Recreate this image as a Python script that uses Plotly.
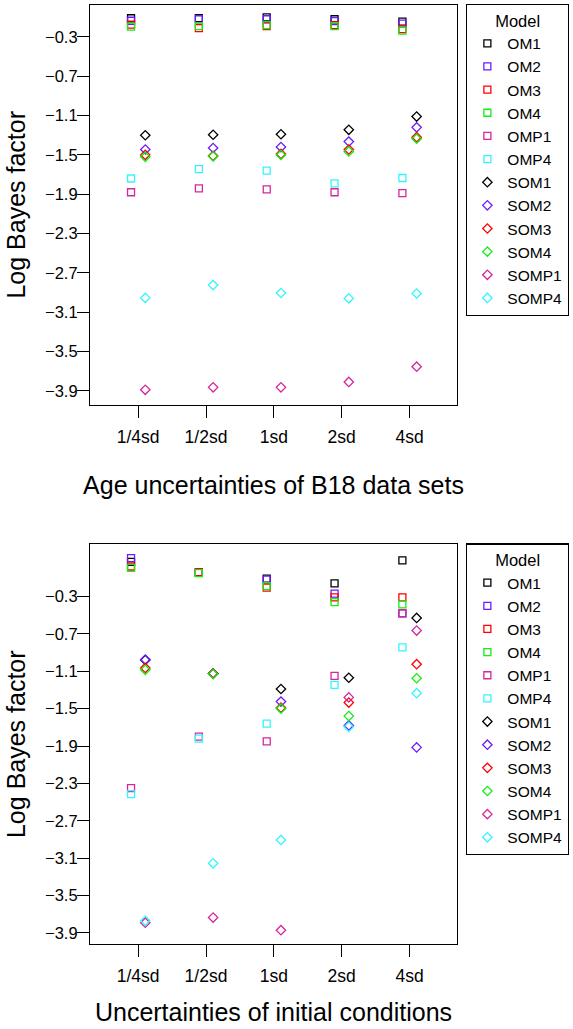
import plotly.graph_objects as go

# categories on the x axis (same for both panels)
categories = ["1/4sd", "1/2sd", "1sd", "2sd", "4sd"]
y_ticks = [-0.3, -0.7, -1.1, -1.5, -1.9, -2.3, -2.7, -3.1, -3.5, -3.9]

models = ["OM1", "OM2", "OM3", "OM4", "OMP1", "OMP4",
          "SOM1", "SOM2", "SOM3", "SOM4", "SOMP1", "SOMP4"]

# top panel: age uncertainties of B18 data sets
age_om1 = [-0.11, -0.11, -0.10, -0.12, -0.145]
age_om2 = [-0.135, -0.12, -0.12, -0.14, -0.165]
age_om3 = [-0.175, -0.21, -0.19, -0.18, -0.22]
age_om4 = [-0.195, -0.19, -0.18, -0.19, -0.235]
age_omp1 = [-1.88, -1.84, -1.85, -1.88, -1.89]
age_omp4 = [-1.74, -1.645, -1.66, -1.79, -1.735]
age_som1 = [-1.30, -1.295, -1.29, -1.245, -1.11]
age_som2 = [-1.445, -1.43, -1.42, -1.365, -1.22]
age_som3 = [-1.50, -1.51, -1.49, -1.445, -1.32]
age_som4 = [-1.52, -1.515, -1.50, -1.465, -1.335]
age_somp1 = [-3.89, -3.865, -3.865, -3.81, -3.655]
age_somp4 = [-2.955, -2.825, -2.905, -2.96, -2.91]

# bottom panel: uncertainties of initial conditions
ic_om1 = [0.07, -0.045, -0.11, -0.16, 0.085]
ic_om2 = [0.11, -0.045, -0.12, -0.27, -0.48]
ic_om3 = [0.02, -0.04, -0.205, -0.31, -0.31]
ic_om4 = [0.005, -0.05, -0.19, -0.36, -0.385]
ic_omp1 = [-2.35, -1.80, -1.85, -1.15, -0.48]
ic_omp4 = [-2.415, -1.82, -1.66, -1.245, -0.845]
ic_som1 = [-0.98, -1.125, -1.29, -1.17, -0.53]
ic_som2 = [-0.975, -1.125, -1.425, -1.68, -1.915]
ic_som3 = [-1.065, -1.125, -1.49, -1.435, -1.025]
ic_som4 = [-1.085, -1.13, -1.50, -1.58, -1.175]
ic_somp1 = [-3.79, -3.735, -3.87, -1.38, -0.665]
ic_somp4 = [-3.77, -3.155, -2.905, -1.695, -1.335]

age_values = [age_om1, age_om2, age_om3, age_om4, age_omp1, age_omp4,
              age_som1, age_som2, age_som3, age_som4, age_somp1, age_somp4]
ic_values = [ic_om1, ic_om2, ic_om3, ic_om4, ic_omp1, ic_omp4,
             ic_som1, ic_som2, ic_som3, ic_som4, ic_somp1, ic_somp4]

colors = ["#000000", "#6A1BFF", "#FF0000", "#11EE11", "#D4279B", "#33F5FF"] * 2

FONT = "Liberation Sans, Arial, sans-serif"


def main():
    fig = go.Figure()

    panels = [("x", "y", "legend", age_values), ("x2", "y2", "legend2", ic_values)]
    for xa, ya, leg, values in panels:
        for i, (name, vals) in enumerate(zip(models, values)):
            is_square = not name.startswith("S")
            fig.add_trace(go.Scatter(
                x=categories, y=vals, name=name, mode="markers",
                xaxis=xa, yaxis=ya, legend=leg,
                offsetgroup="sq" if is_square else "di",
                marker=dict(
                    symbol="square-open" if is_square else "diamond-open",
                    size=7 if is_square else 7.2,
                    color=colors[i],
                    line=dict(width=1.3, color=colors[i]),
                ),
            ))

    axis_common = dict(
        type="category", categoryorder="array", categoryarray=categories,
        range=[-0.71, 4.70], showline=True, mirror=True, linecolor="black",
        linewidth=1.2, ticks="outside", ticklen=12, tickwidth=1.2,
        tickcolor="black", showgrid=False, zeroline=False,
        tickfont=dict(size=17.5, color="black"), ticklabelstandoff=4,
    )
    yaxis_common = dict(
        tickvals=y_ticks, showline=True, mirror=True, linecolor="black",
        linewidth=1.2, ticks="outside", ticklen=12, tickwidth=1.2,
        tickcolor="black", showgrid=False, zeroline=False,
        tickfont=dict(size=16.5, color="black"), ticklabelstandoff=-4,
        title=dict(text="Log Bayes factor", font=dict(size=25), standoff=12),
    )

    legend_common = dict(
        bordercolor="black", borderwidth=1.2, bgcolor="white",
        font=dict(size=15.5, color="black"), xanchor="left", yanchor="top",
        title=dict(text="Model", side="top center", font=dict(size=16.5)),
        itemclick=False, tracegroupgap=0,
    )

    fig.update_layout(
        width=573, height=1029,
        margin=dict(l=90, r=109, t=4, b=85),
        paper_bgcolor="white", plot_bgcolor="white",
        font=dict(family=FONT, color="black"),
        scattermode="group", scattergap=0.58,
        xaxis=dict(axis_common, anchor="y",
                   title=dict(text="Age uncertainties of B18 data sets",
                              font=dict(size=25), standoff=30)),
        xaxis2=dict(axis_common, anchor="y2",
                    title=dict(text="Uncertainties of initial conditions",
                               font=dict(size=25), standoff=18)),
        yaxis=dict(yaxis_common, domain=[0.5745, 1.0], range=[-4.04, 0.025],
                   anchor="x"),
        yaxis2=dict(yaxis_common, domain=[0.0, 0.4255], range=[-4.018, 0.256],
                    anchor="x2"),
        legend=dict(legend_common, x=1.025, y=1.001),
        legend2=dict(legend_common, x=1.025, y=0.4266),
    )

    # drop the default page margin so the figure sits at the window corner
    fig.write_html("out.html", config={"displayModeBar": False},
                   post_script="document.body.style.margin='0';")


if __name__ == "__main__":
    main()
